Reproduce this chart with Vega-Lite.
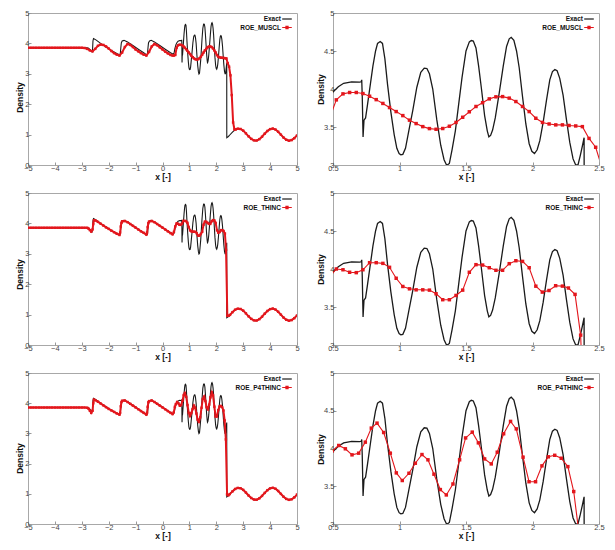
{
  "$schema": "https://vega.github.io/schema/vega-lite/v6.json",
  "padding": {"left": 14, "top": 8, "right": 0, "bottom": 0},
  "datasets": {
    "exact": [
      {"x":-5,"y":3.857},{"x":-4,"y":3.857},{"x":-3,"y":3.857},{"x":-2.8,"y":3.857},{"x":-2.75,"y":3.84},{"x":-2.7,"y":3.8},{"x":-2.65,"y":3.74},{"x":-2.62,"y":3.72},{"x":-2.6,"y":3.8},{"x":-2.585,"y":4.08},{"x":-2.565,"y":4.16},{"x":-2.52,"y":4.14},{"x":-2.45,"y":4.1},{"x":-2.3,"y":4.0},{"x":-2.1,"y":3.88},{"x":-1.9,"y":3.77},{"x":-1.7,"y":3.67},{"x":-1.6,"y":3.63},{"x":-1.57,"y":3.65},{"x":-1.55,"y":3.85},{"x":-1.53,"y":4.02},{"x":-1.5,"y":4.08},{"x":-1.43,"y":4.1},{"x":-1.3,"y":4.05},{"x":-1.1,"y":3.93},{"x":-0.9,"y":3.81},{"x":-0.7,"y":3.69},{"x":-0.6,"y":3.63},{"x":-0.56,"y":3.64},{"x":-0.54,"y":3.85},{"x":-0.52,"y":4.02},{"x":-0.48,"y":4.08},{"x":-0.42,"y":4.1},{"x":-0.3,"y":4.05},{"x":-0.1,"y":3.93},{"x":0.1,"y":3.81},{"x":0.3,"y":3.69},{"x":0.4,"y":3.64},{"x":0.43,"y":3.68},{"x":0.46,"y":3.83},{"x":0.5,"y":3.96},{"x":0.54,"y":4.03},{"x":0.58,"y":4.075},{"x":0.64,"y":4.095},{"x":0.7,"y":4.09},{"x":0.712,"y":4.095},{"x":0.716,"y":4.12},{"x":0.72,"y":3.9},{"x":0.726,"y":3.37},{"x":0.733,"y":3.59},{"x":0.745,"y":3.62},{"x":0.76,"y":3.8},{"x":0.78,"y":4.05},{"x":0.8,"y":4.3},{"x":0.82,"y":4.5},{"x":0.835,"y":4.6},{"x":0.855,"y":4.625},{"x":0.872,"y":4.6},{"x":0.89,"y":4.4},{"x":0.91,"y":4.06},{"x":0.935,"y":3.7},{"x":0.96,"y":3.4},{"x":0.98,"y":3.22},{"x":0.997,"y":3.15},{"x":1.01,"y":3.135},{"x":1.025,"y":3.14},{"x":1.045,"y":3.22},{"x":1.07,"y":3.45},{"x":1.1,"y":3.72},{"x":1.13,"y":4.02},{"x":1.16,"y":4.22},{"x":1.186,"y":4.275},{"x":1.206,"y":4.27},{"x":1.225,"y":4.2},{"x":1.25,"y":4.0},{"x":1.28,"y":3.6},{"x":1.31,"y":3.26},{"x":1.335,"y":3.07},{"x":1.355,"y":2.995},{"x":1.375,"y":3.02},{"x":1.395,"y":3.2},{"x":1.42,"y":3.45},{"x":1.445,"y":3.8},{"x":1.47,"y":4.15},{"x":1.5,"y":4.5},{"x":1.525,"y":4.62},{"x":1.54,"y":4.638},{"x":1.555,"y":4.63},{"x":1.575,"y":4.54},{"x":1.595,"y":4.3},{"x":1.615,"y":4.02},{"x":1.64,"y":3.65},{"x":1.66,"y":3.45},{"x":1.672,"y":3.37},{"x":1.685,"y":3.39},{"x":1.7,"y":3.46},{"x":1.72,"y":3.62},{"x":1.75,"y":3.95},{"x":1.78,"y":4.3},{"x":1.805,"y":4.56},{"x":1.825,"y":4.66},{"x":1.84,"y":4.68},{"x":1.86,"y":4.64},{"x":1.88,"y":4.5},{"x":1.9,"y":4.28},{"x":1.925,"y":3.9},{"x":1.95,"y":3.54},{"x":1.975,"y":3.28},{"x":1.995,"y":3.18},{"x":2.015,"y":3.15},{"x":2.035,"y":3.2},{"x":2.055,"y":3.32},{"x":2.08,"y":3.56},{"x":2.105,"y":3.85},{"x":2.13,"y":4.12},{"x":2.15,"y":4.23},{"x":2.168,"y":4.255},{"x":2.185,"y":4.24},{"x":2.205,"y":4.14},{"x":2.23,"y":3.92},{"x":2.255,"y":3.6},{"x":2.28,"y":3.3},{"x":2.305,"y":3.08},{"x":2.325,"y":3.0},{"x":2.342,"y":3.0},{"x":2.36,"y":3.13},{"x":2.375,"y":3.25},{"x":2.388,"y":3.36},{"x":2.39,"y":0.9},{"x":2.45,"y":0.938},{"x":2.5,"y":0.987},{"x":2.6,"y":1.084},{"x":2.7,"y":1.16},{"x":2.8,"y":1.199},{"x":2.9,"y":1.187},{"x":3.0,"y":1.13},{"x":3.1,"y":1.041},{"x":3.2,"y":0.942},{"x":3.3,"y":0.858},{"x":3.4,"y":0.808},{"x":3.46,"y":0.8},{"x":3.55,"y":0.822},{"x":3.65,"y":0.886},{"x":3.75,"y":0.98},{"x":3.85,"y":1.078},{"x":3.95,"y":1.157},{"x":4.05,"y":1.197},{"x":4.1,"y":1.2},{"x":4.2,"y":1.167},{"x":4.3,"y":1.094},{"x":4.4,"y":0.998},{"x":4.5,"y":0.902},{"x":4.6,"y":0.831},{"x":4.7,"y":0.8},{"x":4.8,"y":0.819},{"x":4.9,"y":0.882},{"x":5.0,"y":0.974}
    ],
    "muscl": [
      {"x":-5.0,"y":3.857},{"x":-4.9,"y":3.857},{"x":-4.8,"y":3.857},{"x":-4.7,"y":3.857},{"x":-4.6,"y":3.857},{"x":-4.5,"y":3.857},{"x":-4.4,"y":3.857},{"x":-4.3,"y":3.857},{"x":-4.2,"y":3.857},{"x":-4.1,"y":3.857},{"x":-4.0,"y":3.857},{"x":-3.9,"y":3.857},{"x":-3.8,"y":3.857},{"x":-3.7,"y":3.857},{"x":-3.6,"y":3.857},{"x":-3.5,"y":3.857},{"x":-3.4,"y":3.857},{"x":-3.3,"y":3.857},{"x":-3.2,"y":3.857},{"x":-3.1,"y":3.857},{"x":-3.0,"y":3.857},
      {"x":-2.9,"y":3.85},{"x":-2.8,"y":3.82},{"x":-2.7,"y":3.77},{"x":-2.6,"y":3.74},{"x":-2.5,"y":3.82},{"x":-2.4,"y":3.92},{"x":-2.3,"y":3.96},{"x":-2.2,"y":3.95},{"x":-2.1,"y":3.9},{"x":-2.0,"y":3.83},{"x":-1.9,"y":3.75},{"x":-1.8,"y":3.68},{"x":-1.7,"y":3.63},{"x":-1.6,"y":3.6},{"x":-1.5,"y":3.7},{"x":-1.4,"y":3.88},{"x":-1.3,"y":3.98},{"x":-1.2,"y":3.95},{"x":-1.1,"y":3.88},{"x":-1.0,"y":3.8},{"x":-0.9,"y":3.74},{"x":-0.8,"y":3.68},{"x":-0.7,"y":3.63},{"x":-0.6,"y":3.6},{"x":-0.5,"y":3.72},{"x":-0.4,"y":3.9},{"x":-0.3,"y":3.98},{"x":-0.2,"y":3.94},{"x":-0.1,"y":3.87},{"x":0.0,"y":3.8},{"x":0.1,"y":3.73},{"x":0.2,"y":3.67},{"x":0.3,"y":3.62},{"x":0.375,"y":3.6},{"x":0.425,"y":3.6},{"x":0.475,"y":3.62},
      {"x":0.525,"y":3.857},{"x":0.575,"y":3.936},{"x":0.625,"y":3.954},{"x":0.675,"y":3.954},{"x":0.725,"y":3.94},{"x":0.775,"y":3.905},{"x":0.825,"y":3.86},{"x":0.875,"y":3.81},{"x":0.925,"y":3.756},{"x":0.975,"y":3.703},{"x":1.025,"y":3.65},{"x":1.075,"y":3.59},{"x":1.125,"y":3.545},{"x":1.175,"y":3.505},{"x":1.225,"y":3.479},{"x":1.275,"y":3.47},{"x":1.325,"y":3.48},{"x":1.375,"y":3.51},{"x":1.425,"y":3.56},{"x":1.475,"y":3.628},{"x":1.525,"y":3.7},{"x":1.575,"y":3.77},{"x":1.625,"y":3.82},{"x":1.675,"y":3.87},{"x":1.725,"y":3.897},{"x":1.775,"y":3.9},{"x":1.825,"y":3.88},{"x":1.875,"y":3.835},{"x":1.925,"y":3.77},{"x":1.975,"y":3.703},{"x":2.025,"y":3.615},{"x":2.075,"y":3.56},{"x":2.125,"y":3.54},{"x":2.175,"y":3.528},{"x":2.225,"y":3.528},{"x":2.275,"y":3.52},{"x":2.325,"y":3.514},{"x":2.375,"y":3.505},{"x":2.425,"y":3.35},{"x":2.475,"y":3.233},{"x":2.525,"y":2.95},{"x":2.575,"y":2.3},{"x":2.625,"y":1.4},{"x":2.675,"y":1.17},{"x":2.725,"y":1.17},
      {"x":2.8,"y":1.195},{"x":2.9,"y":1.185},{"x":3.0,"y":1.13},{"x":3.1,"y":1.041},{"x":3.2,"y":0.943},{"x":3.3,"y":0.86},{"x":3.4,"y":0.81},{"x":3.5,"y":0.805},{"x":3.6,"y":0.85},{"x":3.7,"y":0.93},{"x":3.8,"y":1.03},{"x":3.9,"y":1.12},{"x":4.0,"y":1.18},{"x":4.1,"y":1.198},{"x":4.2,"y":1.167},{"x":4.3,"y":1.094},{"x":4.4,"y":0.998},{"x":4.5,"y":0.902},{"x":4.6,"y":0.831},{"x":4.7,"y":0.8},{"x":4.8,"y":0.819},{"x":4.9,"y":0.882},{"x":5.0,"y":0.974}
    ],
    "thinc": [
      {"x":-5.0,"y":3.857},{"x":-4.9,"y":3.857},{"x":-4.8,"y":3.857},{"x":-4.7,"y":3.857},{"x":-4.6,"y":3.857},{"x":-4.5,"y":3.857},{"x":-4.4,"y":3.857},{"x":-4.3,"y":3.857},{"x":-4.2,"y":3.857},{"x":-4.1,"y":3.857},{"x":-4.0,"y":3.857},{"x":-3.9,"y":3.857},{"x":-3.8,"y":3.857},{"x":-3.7,"y":3.857},{"x":-3.6,"y":3.857},{"x":-3.5,"y":3.857},{"x":-3.4,"y":3.857},{"x":-3.3,"y":3.857},{"x":-3.2,"y":3.857},{"x":-3.1,"y":3.857},{"x":-3.0,"y":3.857},{"x":-2.9,"y":3.857},{"x":-2.8,"y":3.855},
      {"x":-2.75,"y":3.83},{"x":-2.7,"y":3.78},{"x":-2.65,"y":3.73},{"x":-2.6,"y":3.8},{"x":-2.575,"y":3.98},{"x":-2.55,"y":4.1},{"x":-2.5,"y":4.1},{"x":-2.4,"y":4.05},{"x":-2.3,"y":3.99},{"x":-2.2,"y":3.93},{"x":-2.1,"y":3.87},{"x":-2.0,"y":3.82},{"x":-1.9,"y":3.76},{"x":-1.8,"y":3.71},{"x":-1.7,"y":3.66},{"x":-1.6,"y":3.62},{"x":-1.575,"y":3.7},{"x":-1.55,"y":3.9},{"x":-1.525,"y":4.02},{"x":-1.5,"y":4.07},{"x":-1.4,"y":4.08},{"x":-1.3,"y":4.04},{"x":-1.2,"y":3.98},{"x":-1.1,"y":3.92},{"x":-1.0,"y":3.86},{"x":-0.9,"y":3.8},{"x":-0.8,"y":3.74},{"x":-0.7,"y":3.69},{"x":-0.6,"y":3.63},{"x":-0.575,"y":3.7},{"x":-0.55,"y":3.88},{"x":-0.525,"y":4.01},{"x":-0.5,"y":4.06},{"x":-0.4,"y":4.08},{"x":-0.3,"y":4.04},{"x":-0.2,"y":3.98},{"x":-0.1,"y":3.92},{"x":0.0,"y":3.86},{"x":0.1,"y":3.8},{"x":0.2,"y":3.74},{"x":0.3,"y":3.68},{"x":0.375,"y":3.64},{"x":0.425,"y":3.72},{"x":0.475,"y":3.9},
      {"x":0.525,"y":4.0},{"x":0.575,"y":3.99},{"x":0.625,"y":3.957},{"x":0.675,"y":3.952},{"x":0.725,"y":3.99},{"x":0.775,"y":4.083},{"x":0.825,"y":4.083},{"x":0.875,"y":4.074},{"x":0.925,"y":4.022},{"x":0.975,"y":3.878},{"x":1.025,"y":3.77},{"x":1.075,"y":3.739},{"x":1.125,"y":3.726},{"x":1.175,"y":3.726},{"x":1.225,"y":3.722},{"x":1.275,"y":3.674},{"x":1.325,"y":3.596},{"x":1.375,"y":3.596},{"x":1.425,"y":3.652},{"x":1.475,"y":3.722},{"x":1.525,"y":3.957},{"x":1.575,"y":4.057},{"x":1.625,"y":4.052},{"x":1.675,"y":4.017},{"x":1.725,"y":3.983},{"x":1.775,"y":3.983},{"x":1.825,"y":4.07},{"x":1.875,"y":4.109},{"x":1.925,"y":4.1},{"x":1.975,"y":4.017},{"x":2.025,"y":3.774},{"x":2.074,"y":3.696},{"x":2.124,"y":3.717},{"x":2.174,"y":3.78},{"x":2.225,"y":3.775},{"x":2.27,"y":3.75},{"x":2.32,"y":3.666},{"x":2.362,"y":3.13},{"x":2.41,"y":0.96},{"x":2.46,"y":0.96},{"x":2.51,"y":0.99},{"x":2.6,"y":1.08},{"x":2.7,"y":1.16},
      {"x":2.8,"y":1.195},{"x":2.9,"y":1.185},{"x":3.0,"y":1.13},{"x":3.1,"y":1.041},{"x":3.2,"y":0.943},{"x":3.3,"y":0.86},{"x":3.4,"y":0.81},{"x":3.5,"y":0.805},{"x":3.6,"y":0.85},{"x":3.7,"y":0.93},{"x":3.8,"y":1.03},{"x":3.9,"y":1.12},{"x":4.0,"y":1.18},{"x":4.1,"y":1.198},{"x":4.2,"y":1.167},{"x":4.3,"y":1.094},{"x":4.4,"y":0.998},{"x":4.5,"y":0.902},{"x":4.6,"y":0.831},{"x":4.7,"y":0.8},{"x":4.8,"y":0.819},{"x":4.9,"y":0.882},{"x":5.0,"y":0.974}
    ],
    "p4thinc": [
      {"x":-5.0,"y":3.857},{"x":-4.9,"y":3.857},{"x":-4.8,"y":3.857},{"x":-4.7,"y":3.857},{"x":-4.6,"y":3.857},{"x":-4.5,"y":3.857},{"x":-4.4,"y":3.857},{"x":-4.3,"y":3.857},{"x":-4.2,"y":3.857},{"x":-4.1,"y":3.857},{"x":-4.0,"y":3.857},{"x":-3.9,"y":3.857},{"x":-3.8,"y":3.857},{"x":-3.7,"y":3.857},{"x":-3.6,"y":3.857},{"x":-3.5,"y":3.857},{"x":-3.4,"y":3.857},{"x":-3.3,"y":3.857},{"x":-3.2,"y":3.857},{"x":-3.1,"y":3.857},{"x":-3.0,"y":3.857},{"x":-2.9,"y":3.857},{"x":-2.8,"y":3.85},
      {"x":-2.75,"y":3.82},{"x":-2.7,"y":3.75},{"x":-2.65,"y":3.68},{"x":-2.6,"y":3.75},{"x":-2.575,"y":4.0},{"x":-2.55,"y":4.12},{"x":-2.5,"y":4.1},{"x":-2.4,"y":4.05},{"x":-2.3,"y":3.99},{"x":-2.2,"y":3.93},{"x":-2.1,"y":3.87},{"x":-2.0,"y":3.81},{"x":-1.9,"y":3.76},{"x":-1.8,"y":3.71},{"x":-1.7,"y":3.66},{"x":-1.6,"y":3.62},{"x":-1.575,"y":3.68},{"x":-1.55,"y":3.9},{"x":-1.525,"y":4.04},{"x":-1.5,"y":4.08},{"x":-1.4,"y":4.09},{"x":-1.3,"y":4.04},{"x":-1.2,"y":3.98},{"x":-1.1,"y":3.92},{"x":-1.0,"y":3.86},{"x":-0.9,"y":3.8},{"x":-0.8,"y":3.74},{"x":-0.7,"y":3.68},{"x":-0.6,"y":3.62},{"x":-0.575,"y":3.68},{"x":-0.55,"y":3.88},{"x":-0.525,"y":4.03},{"x":-0.5,"y":4.07},{"x":-0.4,"y":4.09},{"x":-0.3,"y":4.04},{"x":-0.2,"y":3.98},{"x":-0.1,"y":3.92},{"x":0.0,"y":3.86},{"x":0.1,"y":3.8},{"x":0.2,"y":3.74},{"x":0.3,"y":3.68},{"x":0.375,"y":3.64},{"x":0.42,"y":3.7},{"x":0.46,"y":3.88},{"x":0.495,"y":3.97},
      {"x":0.543,"y":4.04},{"x":0.593,"y":3.996},{"x":0.643,"y":3.916},{"x":0.693,"y":3.938},{"x":0.743,"y":4.084},{"x":0.788,"y":4.27},{"x":0.831,"y":4.336},{"x":0.881,"y":4.212},{"x":0.931,"y":3.938},{"x":0.976,"y":3.677},{"x":1.021,"y":3.576},{"x":1.071,"y":3.672},{"x":1.119,"y":3.805},{"x":1.169,"y":3.92},{"x":1.214,"y":3.85},{"x":1.259,"y":3.66},{"x":1.307,"y":3.456},{"x":1.352,"y":3.385},{"x":1.402,"y":3.53},{"x":1.452,"y":3.85},{"x":1.497,"y":4.14},{"x":1.547,"y":4.217},{"x":1.593,"y":4.075},{"x":1.64,"y":3.862},{"x":1.69,"y":3.796},{"x":1.735,"y":3.951},{"x":1.783,"y":4.195},{"x":1.835,"y":4.359},{"x":1.878,"y":4.26},{"x":1.929,"y":3.885},{"x":1.974,"y":3.56},{"x":2.023,"y":3.56},{"x":2.071,"y":3.77},{"x":2.119,"y":3.89},{"x":2.167,"y":3.91},{"x":2.216,"y":3.871},{"x":2.266,"y":3.76},{"x":2.31,"y":3.43},{"x":2.355,"y":2.8},{"x":2.4,"y":0.98},{"x":2.45,"y":0.95},{"x":2.5,"y":0.99},{"x":2.6,"y":1.08},{"x":2.7,"y":1.16},
      {"x":2.8,"y":1.195},{"x":2.9,"y":1.185},{"x":3.0,"y":1.13},{"x":3.1,"y":1.041},{"x":3.2,"y":0.943},{"x":3.3,"y":0.86},{"x":3.4,"y":0.81},{"x":3.5,"y":0.805},{"x":3.6,"y":0.85},{"x":3.7,"y":0.93},{"x":3.8,"y":1.03},{"x":3.9,"y":1.12},{"x":4.0,"y":1.18},{"x":4.1,"y":1.198},{"x":4.2,"y":1.167},{"x":4.3,"y":1.094},{"x":4.4,"y":0.998},{"x":4.5,"y":0.902},{"x":4.6,"y":0.831},{"x":4.7,"y":0.8},{"x":4.8,"y":0.819},{"x":4.9,"y":0.882},{"x":5.0,"y":0.974}
    ]
  },
  "columns": 2,
  "spacing": {"row": 28, "column": 36},
  "bounds": "flush",
  "resolve": {"scale": {"color": "independent"}, "legend": {"color": "independent"}},
  "concat": [
    {
      "width": 269, "height": 152,
      "encoding": {
        "x": {"field": "x", "type": "quantitative", "scale": {"domain": [-5, 5], "nice": false, "zero": false}, "axis": {"title": "x [-]", "values": [-5,-4,-3,-2,-1,0,1,2,3,4,5]}},
        "y": {"field": "y", "type": "quantitative", "scale": {"domain": [0, 5], "nice": false, "zero": false}, "axis": {"title": "Density", "values": [0,1,2,3,4,5], "titleX": -6, "titleY": 84}}
      },
      "layer": [
        {"data": {"name": "exact"}, "mark": {"type": "line", "strokeWidth": 1.1, "clip": true}, "encoding": {"color": {"datum": "Exact", "scale": {"domain": ["Exact", "ROE_MUSCL"], "range": ["#1a1a1a", "#e3161c"]}, "legend": {"title": null, "encode": {"symbols": {"update": {"shape": {"signal": "datum.value == 'Exact' ? 'M-1.6,0L1.6,0' : 'M-1.6,0L1.6,0M-0.35,-0.35L0.35,-0.35L0.35,0.35L-0.35,0.35Z'"}, "fill": {"signal": "datum.value == 'Exact' ? 'transparent' : '#e3161c'"}}}}}}}},
        {"data": {"name": "muscl"}, "mark": {"type": "line", "strokeWidth": 2, "clip": true}, "encoding": {"color": {"datum": "ROE_MUSCL"}}},
        {"data": {"name": "muscl"}, "mark": {"type": "point", "shape": "square", "filled": true, "size": 6, "color": "#e3161c", "opacity": 1, "clip": true}}
      ]
    },
    {
      "width": 266, "height": 152,
      "encoding": {
        "x": {"field": "x", "type": "quantitative", "scale": {"domain": [0.5, 2.5], "nice": false, "zero": false}, "axis": {"title": "x [-]", "values": [0.5,1,1.5,2,2.5], "format": "~g"}},
        "y": {"field": "y", "type": "quantitative", "scale": {"domain": [3, 5], "nice": false, "zero": false}, "axis": {"title": "Density", "values": [3,3.5,4,4.5,5], "format": "~g", "titleX": -10, "titleY": 76}}
      },
      "layer": [
        {"data": {"name": "exact"}, "mark": {"type": "line", "strokeWidth": 1.3, "clip": true}, "encoding": {"color": {"datum": "Exact", "scale": {"domain": ["Exact", "ROE_MUSCL"], "range": ["#1a1a1a", "#e3161c"]}, "legend": {"title": null, "encode": {"symbols": {"update": {"shape": {"signal": "datum.value == 'Exact' ? 'M-1.6,0L1.6,0' : 'M-1.6,0L1.6,0M-0.35,-0.35L0.35,-0.35L0.35,0.35L-0.35,0.35Z'"}, "fill": {"signal": "datum.value == 'Exact' ? 'transparent' : '#e3161c'"}}}}}}}},
        {"data": {"name": "muscl"}, "mark": {"type": "line", "strokeWidth": 1.1, "clip": true}, "encoding": {"color": {"datum": "ROE_MUSCL"}}},
        {"data": {"name": "muscl"}, "mark": {"type": "point", "shape": "square", "filled": true, "size": 12, "color": "#e3161c", "opacity": 1, "clip": true}}
      ]
    },
    {
      "width": 269, "height": 152,
      "encoding": {
        "x": {"field": "x", "type": "quantitative", "scale": {"domain": [-5, 5], "nice": false, "zero": false}, "axis": {"title": "x [-]", "values": [-5,-4,-3,-2,-1,0,1,2,3,4,5]}},
        "y": {"field": "y", "type": "quantitative", "scale": {"domain": [0, 5], "nice": false, "zero": false}, "axis": {"title": "Density", "values": [0,1,2,3,4,5], "titleX": -6, "titleY": 81}}
      },
      "layer": [
        {"data": {"name": "exact"}, "mark": {"type": "line", "strokeWidth": 1.1, "clip": true}, "encoding": {"color": {"datum": "Exact", "scale": {"domain": ["Exact", "ROE_THINC"], "range": ["#1a1a1a", "#e3161c"]}, "legend": {"title": null, "encode": {"symbols": {"update": {"shape": {"signal": "datum.value == 'Exact' ? 'M-1.6,0L1.6,0' : 'M-1.6,0L1.6,0M-0.35,-0.35L0.35,-0.35L0.35,0.35L-0.35,0.35Z'"}, "fill": {"signal": "datum.value == 'Exact' ? 'transparent' : '#e3161c'"}}}}}}}},
        {"data": {"name": "thinc"}, "mark": {"type": "line", "strokeWidth": 2, "clip": true}, "encoding": {"color": {"datum": "ROE_THINC"}}},
        {"data": {"name": "thinc"}, "mark": {"type": "point", "shape": "square", "filled": true, "size": 6, "color": "#e3161c", "opacity": 1, "clip": true}}
      ]
    },
    {
      "width": 266, "height": 152,
      "encoding": {
        "x": {"field": "x", "type": "quantitative", "scale": {"domain": [0.5, 2.5], "nice": false, "zero": false}, "axis": {"title": "x [-]", "values": [0.5,1,1.5,2,2.5], "format": "~g"}},
        "y": {"field": "y", "type": "quantitative", "scale": {"domain": [3, 5], "nice": false, "zero": false}, "axis": {"title": "Density", "values": [3,3.5,4,4.5,5], "format": "~g", "titleX": -10, "titleY": 76}}
      },
      "layer": [
        {"data": {"name": "exact"}, "mark": {"type": "line", "strokeWidth": 1.3, "clip": true}, "encoding": {"color": {"datum": "Exact", "scale": {"domain": ["Exact", "ROE_THINC"], "range": ["#1a1a1a", "#e3161c"]}, "legend": {"title": null, "encode": {"symbols": {"update": {"shape": {"signal": "datum.value == 'Exact' ? 'M-1.6,0L1.6,0' : 'M-1.6,0L1.6,0M-0.35,-0.35L0.35,-0.35L0.35,0.35L-0.35,0.35Z'"}, "fill": {"signal": "datum.value == 'Exact' ? 'transparent' : '#e3161c'"}}}}}}}},
        {"data": {"name": "thinc"}, "mark": {"type": "line", "strokeWidth": 1.1, "clip": true}, "encoding": {"color": {"datum": "ROE_THINC"}}},
        {"data": {"name": "thinc"}, "mark": {"type": "point", "shape": "square", "filled": true, "size": 12, "color": "#e3161c", "opacity": 1, "clip": true}}
      ]
    },
    {
      "width": 269, "height": 151,
      "encoding": {
        "x": {"field": "x", "type": "quantitative", "scale": {"domain": [-5, 5], "nice": false, "zero": false}, "axis": {"title": "x [-]", "values": [-5,-4,-3,-2,-1,0,1,2,3,4,5]}},
        "y": {"field": "y", "type": "quantitative", "scale": {"domain": [0, 5], "nice": false, "zero": false}, "axis": {"title": "Density", "values": [0,1,2,3,4,5], "titleX": -6, "titleY": 85}}
      },
      "layer": [
        {"data": {"name": "exact"}, "mark": {"type": "line", "strokeWidth": 1.1, "clip": true}, "encoding": {"color": {"datum": "Exact", "scale": {"domain": ["Exact", "ROE_P4THINC"], "range": ["#1a1a1a", "#e3161c"]}, "legend": {"title": null, "encode": {"symbols": {"update": {"shape": {"signal": "datum.value == 'Exact' ? 'M-1.6,0L1.6,0' : 'M-1.6,0L1.6,0M-0.35,-0.35L0.35,-0.35L0.35,0.35L-0.35,0.35Z'"}, "fill": {"signal": "datum.value == 'Exact' ? 'transparent' : '#e3161c'"}}}}}}}},
        {"data": {"name": "p4thinc"}, "mark": {"type": "line", "strokeWidth": 2, "clip": true}, "encoding": {"color": {"datum": "ROE_P4THINC"}}},
        {"data": {"name": "p4thinc"}, "mark": {"type": "point", "shape": "square", "filled": true, "size": 6, "color": "#e3161c", "opacity": 1, "clip": true}}
      ]
    },
    {
      "width": 266, "height": 151,
      "encoding": {
        "x": {"field": "x", "type": "quantitative", "scale": {"domain": [0.5, 2.5], "nice": false, "zero": false}, "axis": {"title": "x [-]", "values": [0.5,1,1.5,2,2.5], "format": "~g"}},
        "y": {"field": "y", "type": "quantitative", "scale": {"domain": [3, 5], "nice": false, "zero": false}, "axis": {"title": "Density", "values": [3,3.5,4,4.5,5], "format": "~g", "titleX": -10, "titleY": 76}}
      },
      "layer": [
        {"data": {"name": "exact"}, "mark": {"type": "line", "strokeWidth": 1.3, "clip": true}, "encoding": {"color": {"datum": "Exact", "scale": {"domain": ["Exact", "ROE_P4THINC"], "range": ["#1a1a1a", "#e3161c"]}, "legend": {"title": null, "encode": {"symbols": {"update": {"shape": {"signal": "datum.value == 'Exact' ? 'M-1.6,0L1.6,0' : 'M-1.6,0L1.6,0M-0.35,-0.35L0.35,-0.35L0.35,0.35L-0.35,0.35Z'"}, "fill": {"signal": "datum.value == 'Exact' ? 'transparent' : '#e3161c'"}}}}}}}},
        {"data": {"name": "p4thinc"}, "mark": {"type": "line", "strokeWidth": 1.1, "clip": true}, "encoding": {"color": {"datum": "ROE_P4THINC"}}},
        {"data": {"name": "p4thinc"}, "mark": {"type": "point", "shape": "square", "filled": true, "size": 12, "color": "#e3161c", "opacity": 1, "clip": true}}
      ]
    }
  ],
  "config": {
    "font": "Liberation Sans",
    "view": {"stroke": "#a8a8a8", "strokeWidth": 1},
    "axis": {"grid": false, "domain": false, "ticks": true, "tickSize": -3, "tickColor": "#999999", "labelFontSize": 7.5, "labelColor": "#444444", "labelFlush": false, "labelOverlap": false, "labelPadding": 2, "titleFontSize": 8.5, "titleFontWeight": "bold", "titleColor": "#111111"},
    "axisX": {"titlePadding": 1},
    "axisY": {"titleBaseline": "alphabetic", "titleAlign": "center"},
    "legend": {"orient": "top-right", "offset": 2, "padding": 0, "labelFontSize": 6.5, "labelFontWeight": "bold", "labelColor": "#111111", "labelAlign": "right", "labelOffset": -10, "labelLimit": 200, "symbolSize": 36, "symbolStrokeWidth": 1.2, "rowPadding": 0.5}
  }
}
